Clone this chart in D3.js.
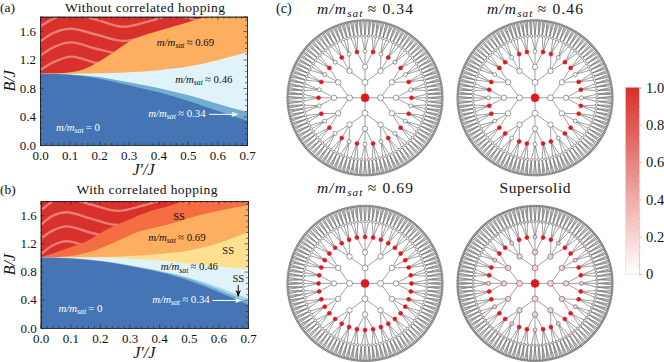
<!DOCTYPE html>
<html><head><meta charset="utf-8">
<style>html,body{margin:0;padding:0;background:#fff}svg{display:block}
text{font-family:"Liberation Serif",serif;fill:#111}</style>
<script src="https://cdn.jsdelivr.net/npm/d3@7"></script></head>
<body><svg id="c" width="664" height="362"></svg>
<script>
// ---------- phase diagram (a): boundaries as [J'/J, B/J]
const aRedEdge   = [[0,1],[.05,1.002],[.089,1.014],[.146,1.06],[.2,1.17],[.258,1.33],[.315,1.48],[.37,1.565],[.428,1.636],[.484,1.70],[.55,1.79],[.7,2.05]];
const aOrangeEdge= [[0,1],[.1,1],[.2,1.005],[.3,1.02],[.4,1.05],[.5,1.10],[.6,1.19],[.7,1.30]];
const aPaleEdge  = [[0,1],[.1,.99],[.2,.955],[.3,.88],[.4,.80],[.5,.70],[.6,.58],[.7,.465]];
const aMidEdge   = [[0,1],[.1,.985],[.2,.93],[.3,.84],[.4,.74],[.5,.62],[.6,.48],[.7,.34]];
const aStripes = [
 [[0,1.05],[.05,1.17],[.106,1.24],[.19,1.15],[.28,1.06]],
 [[0,1.25],[.05,1.38],[.106,1.44],[.19,1.35],[.28,1.26]],
 [[0,1.45],[.05,1.58],[.106,1.63],[.19,1.55],[.28,1.46],[.365,1.53],[.45,1.62],[.53,1.55]],
 [[0,1.66],[.05,1.78],[.106,1.84],[.19,1.76],[.28,1.66],[.365,1.73],[.45,1.82],[.53,1.75],[.6,1.66]]
];
// ---------- phase diagram (b)
const bRedEdge    = [[0,1],[.076,1.11],[.155,1.23],[.223,1.395],[.29,1.52],[.37,1.66],[.425,1.72],[.487,1.81],[.7,2.1]];
const bDeepEdge   = [[0,1],[.03,1],[.1,1.02],[.167,1.08],[.245,1.21],[.335,1.37],[.425,1.46],[.538,1.6],[.7,1.745]];
const bOrangeEdge = [[0,1],[.1,1],[.2,1.005],[.3,1.02],[.4,1.05],[.5,1.10],[.6,1.2],[.7,1.36]];
const bYellowEdge = [[0,1],[.1,1],[.2,1],[.3,.985],[.4,.955],[.5,.915],[.6,.875],[.7,.835]];
const bPaleEdge   = [[0,1],[.1,.99],[.2,.955],[.3,.89],[.4,.815],[.5,.715],[.6,.58],[.65,.5],[.7,.42]];
const bSkyEdge    = [[0,1],[.1,.988],[.2,.95],[.3,.885],[.4,.805],[.5,.70],[.6,.545],[.65,.46],[.7,.37]];
const bMidEdge    = [[0,1],[.1,.985],[.2,.945],[.3,.88],[.437,.755],[.548,.60],[.64,.44],[.7,.33]];
const bStripes = [
 [[0,1.04],[.04,1.17],[.088,1.23],[.17,1.14],[.26,1.06]],
 [[0,1.26],[.04,1.38],[.088,1.44],[.17,1.35],[.26,1.26]],
 [[0,1.46],[.04,1.59],[.088,1.64],[.17,1.55],[.26,1.46],[.35,1.54],[.437,1.63],[.5,1.56]],
 [[0,1.66],[.04,1.79],[.088,1.84],[.17,1.75],[.26,1.66],[.35,1.74],[.437,1.83],[.5,1.76],[.56,1.68]]
];
const xMajor = [0,.1,.2,.3,.4,.5,.6,.7];
const yMajor = [0,.4,.8,1.2,1.6];
const xMinor = [.02,.04,.06,.08,.12,.14,.16,.18,.22,.24,.26,.28,.32,.34,.36,.38,.42,.44,.46,.48,.52,.54,.56,.58,.62,.64,.66,.68];
const yMinor = [.08,.16,.24,.32,.48,.56,.64,.72,.88,.96,1.04,1.12,1.28,1.36,1.44,1.52,1.68,1.76];
// ---------- annotations [text value, x, y, colour]
const aLabels = [["≈ 0.69",.395,1.39,"#111"],["≈ 0.46",.457,.87,"#111"],["≈ 0.34",.366,.393,"#fff"],["= 0",.054,.196,"#fff"]];
const bLabels = [["≈ 0.69",.363,1.24,"#111"],["≈ 0.46",.405,.815,"#111"],["≈ 0.34",.377,.36,"#fff"],["= 0",.06,.227,"#fff"]];
const bSS = [[.467,1.53],[.633,1.045],[.667,.647]];
// ---------- Cayley tree site occupations per shell (shell 0 = centre)
const shellCounts = [1,4,12,36,108,324];
const treeTitles = ["≈ 0.34","≈ 0.46","≈ 0.69","Supersolid"];
const shell0 = [1,1,1,1];
const shell1 = [0,0,0,.2];
const shell2 = [0,0,0,.2];
const shell4 = [0,0,0,.16];
const shell5 = [0,0,0,.12];
const shell3A = [1,0,1,0,1,0,1,0,1,0,1,0,1,0,1,0,1,0,1,0,1,0,1,0,1,0,1,0,1,0,1,0,1,0,1,0];
const shell3B = [1,0,1,1,0,1,1,0,1,1,0,1,1,0,1,1,0,1,1,0,1,1,0,1,1,0,1,1,0,1,1,0,1,1,0,1];
const shell3C = [1,1,1,1,1,1,1,1,1,1,1,1,1,1,1,1,1,1,1,1,1,1,1,1,1,1,1,1,1,1,1,1,1,1,1,1];
const shell3D = [1,.22,1,1,.22,1,1,.22,1,1,.22,1,1,.22,1,1,.22,1,1,.22,1,1,.22,1,1,.22,1,1,.22,1,1,.22,1,1,.22,1];
const shell3 = [shell3A,shell3B,shell3C,shell3D];
const colorbarTicks = [0,.2,.4,.6,.8,1];
const colorbarMinor = [.05,.1,.15,.25,.3,.35,.45,.5,.55,.65,.7,.75,.85,.9,.95];

const svg = d3.select("#c");
const INK="#222";
const defs = svg.append("defs");
[["w","#fff"],["k","#111"]].forEach(([id,col])=>{
  defs.append("marker").attr("id","arrow"+id).attr("viewBox","0 0 10 8").attr("refX",9).attr("refY",4)
   .attr("markerWidth",7).attr("markerHeight",5.5).attr("markerUnits","userSpaceOnUse").attr("orient","auto")
   .append("path").attr("d","M0,0L10,4L0,8L2.5,4Z").attr("fill",col);
});
function mathLabel(sel,x,y,rest,size,fill,anchor,len){
  const t=sel.append("text").attr("x",x).attr("y",y).attr("font-size",size).attr("text-anchor",anchor||"start");
  if(len) t.attr("textLength",len);
  t.append("tspan").attr("font-style","italic").style("fill",fill).text("m/m");
  t.append("tspan").attr("font-style","italic").style("fill",fill).attr("dy",size*.22).attr("font-size",size*.72).text("sat");
  t.append("tspan").style("fill",fill).attr("dy",-size*.22).text("\u2009"+rest);
  return t;
}
function phasePanel(o){
  const x=d3.scaleLinear().domain([0,.7]).range([o.l,o.r]);
  const y=d3.scaleLinear().domain([0,1.8]).range([o.b,o.t]);
  const g=svg.append("g");
  const id="clip"+o.name;
  defs.append("clipPath").attr("id",id).append("rect").attr("x",o.l).attr("y",o.t).attr("width",o.r-o.l).attr("height",o.b-o.t);
  const plot=g.append("g").attr("clip-path",`url(#${id})`);
  plot.append("rect").attr("x",o.l).attr("y",o.t).attr("width",o.r-o.l).attr("height",o.b-o.t).attr("fill","#d8302a");
  const wave=d3.line().x(d=>x(d[0])).y(d=>y(d[1])).curve(d3.curveCatmullRom.alpha(.5));
  plot.selectAll(".stripe").data(o.stripes).join("path").attr("d",wave).attr("fill","none").attr("stroke","#ea7d74").attr("stroke-width",2.4);
  const area=d3.area().x(d=>x(d[0])).y0(y(0)).y1(d=>y(d[1])).curve(d3.curveMonotoneX);
  plot.selectAll(".region").data(o.regions).join("path").attr("d",d=>area(d[0])).attr("fill",d=>d[1]);
  const axes=[[d3.axisBottom(x),o.b,xMajor,xMinor,true],[d3.axisTop(x),o.t,xMajor,xMinor,false]];
  axes.forEach(([ax,yy,maj,min,lab])=>{
    const a=g.append("g").attr("transform",`translate(0,${yy})`).call(ax.tickValues(maj).tickSize(-3.5).tickPadding(6).tickFormat(lab?d3.format(".1f"):""));
    a.append("g").call(ax.tickValues(min).tickSize(-2).tickFormat(""));
  });
  const yaxes=[[d3.axisLeft(y),o.l,true],[d3.axisRight(y),o.r,false]];
  yaxes.forEach(([ax,xx,lab])=>{
    const a=g.append("g").attr("transform",`translate(${xx},0)`).call(ax.tickValues(yMajor).tickSize(-3.5).tickPadding(4).tickFormat(lab?d3.format(".1f"):""));
    a.append("g").call(ax.tickValues(yMinor).tickSize(-2).tickFormat(""));
  });
  g.selectAll(".domain").attr("stroke",INK).attr("stroke-width",.7);
  g.selectAll(".tick line").attr("stroke",INK).attr("stroke-width",.6);
  g.selectAll(".tick text").attr("font-size",13).attr("fill","#111");
  g.append("text").attr("x",o.titleX).attr("y",o.titleY).attr("font-size",13.5).attr("text-anchor","middle").attr("textLength",o.titleW).text(o.title);
  g.append("text").attr("x",0).attr("y",o.titleY).attr("font-size",13.5).text(o.tag);
  g.append("text").attr("x",(o.l+o.r)/2).attr("y",o.xlabY).attr("font-size",16).attr("text-anchor","middle").attr("font-style","italic").text("J′/J");
  g.append("text").attr("transform",`translate(14.5,${(o.t+o.b)/2}) rotate(-90)`).attr("font-size",16).attr("text-anchor","middle").attr("font-style","italic").text("B/J");
  o.labels.forEach(d=>mathLabel(g,x(d[1]),y(d[2]),d[0],10.8,d[3]));
  return {g,x,y};
}
const A=phasePanel({name:"a",tag:"(a)",title:"Without correlated hopping",titleX:145,titleY:12,titleW:160,xlabY:175,
  l:40,r:247,t:16.7,b:145,stripes:aStripes,labels:aLabels,
  regions:[[aRedEdge,"#fdae61"],[aOrangeEdge,"#e0f3f8"],[aPaleEdge,"#74add1"],[aMidEdge,"#4575b4"]]});
const B=phasePanel({name:"b",tag:"(b)",title:"With correlated hopping",titleX:147,titleY:194,titleW:141,xlabY:358,
  l:40.7,r:248,t:201,b:328,stripes:bStripes,labels:bLabels,
  regions:[[bRedEdge,"#f46d43"],[bDeepEdge,"#fdae61"],[bOrangeEdge,"#fee090"],[bYellowEdge,"#e0f3f8"],[bPaleEdge,"#abd9e9"],[bSkyEdge,"#74add1"],[bMidEdge,"#4575b4"]]});
A.g.append("line").attr("x1",A.x(.572)).attr("x2",A.x(.668)).attr("y1",A.y(.43)).attr("y2",A.y(.43)).attr("stroke","#fff").attr("stroke-width",1).attr("marker-end","url(#arroww)");
B.g.append("line").attr("x1",B.x(.58)).attr("x2",B.x(.677)).attr("y1",B.y(.39)).attr("y2",B.y(.39)).attr("stroke","#fff").attr("stroke-width",1).attr("marker-end","url(#arroww)");
B.g.append("line").attr("x1",B.x(.667)).attr("x2",B.x(.667)).attr("y1",B.y(.61)).attr("y2",B.y(.45)).attr("stroke","#111").attr("stroke-width",1).attr("marker-end","url(#arrowk)");
B.g.selectAll(".ss").data(bSS).join("text").attr("x",d=>B.x(d[0])).attr("y",d=>B.y(d[1])).attr("font-size",10.5).attr("text-anchor","middle").text("SS");

// ---------- trees
const treeCentres = [[365,97.8],[535,97.8],[365,283.4],[535,283.4]];
const radius = d3.scaleLinear().domain([0,5]).range([0,77.5]);
const nodeR = [4,3,2.7,2,1.25,.75];
const nodeColor = d3.scaleLinear().domain([0,1]).range(["#ffffff","#e1181e"]);
function pos(shell,i){
  if(shell===0) return [0,0];
  const ang=d3.scaleLinear().domain([0,shellCounts[shell]]).range([-45,315]);
  return d3.pointRadial((90-ang(i+.5))*Math.PI/180,radius(shell));
}
treeCentres.forEach((c,t)=>{
  const g=svg.append("g").attr("transform",`translate(${c[0]},${c[1]})`);
  const links=[],nodes=[];
  shellCounts.forEach((n,s)=>{
    const level=[shell0[t],shell1[t],shell2[t],null,shell4[t],shell5[t]][s];
    d3.range(n).forEach(i=>{
      const p=pos(s,i);
      nodes.push({s,p,v:s===3?shell3[t][i]:level});
      if(s>0){links.push({s,a:p,b:s===1?[0,0]:pos(s-1,Math.floor(i/3))});}
    });
  });
  g.selectAll("line").data(links).join("line")
   .attr("x1",d=>d.a[0]).attr("y1",d=>d.a[1]).attr("x2",d=>d.b[0]).attr("y2",d=>d.b[1])
   .attr("stroke",d=>d.s===5?"#7e7e7e":"#6e6e6e").attr("stroke-width",d=>d.s===5?.85:.65);
  g.selectAll("circle").data(nodes.slice().reverse()).join("circle")
   .attr("cx",d=>d.p[0]).attr("cy",d=>d.p[1]).attr("r",d=>nodeR[d.s])
   .attr("fill",d=>nodeColor(d.v))
   .attr("stroke",d=>d.v>=1?"#e1181e":"#5a5a5a").attr("stroke-width",d=>d.s===5?.7:.6);
});
svg.append("text").attr("x",276).attr("y",13).attr("font-size",14).text("(c)");
mathLabel(svg,365,13.5,treeTitles[0],15.5,"#111","middle",96);
mathLabel(svg,535,13.5,treeTitles[1],15.5,"#111","middle",96);
mathLabel(svg,365,192.5,treeTitles[2],15.5,"#111","middle",96);
svg.append("text").attr("x",535).attr("y",192.5).attr("font-size",15.5).attr("text-anchor","middle").attr("textLength",71).text(treeTitles[3]);

// ---------- colourbar
const cbY=d3.scaleLinear().domain([0,1]).range([274,87.5]);
const grad=defs.append("linearGradient").attr("id","cb").attr("x1",0).attr("x2",0).attr("y1",1).attr("y2",0);
grad.append("stop").attr("offset",0).attr("stop-color","#ffffff");
grad.append("stop").attr("offset",1).attr("stop-color","#d7302a");
svg.append("rect").attr("x",625.5).attr("y",87.5).attr("width",13.5).attr("height",186.5).attr("fill","url(#cb)");
const cb=svg.append("g").attr("transform","translate(639,0)");
const cbAxis=d3.axisRight(cbY);
cb.call(cbAxis.tickValues(colorbarTicks).tickSize(3).tickPadding(4).tickFormat(d=>d===0?"0":d3.format(".1f")(d)));
cb.append("g").call(cbAxis.tickValues(colorbarMinor).tickSize(1.5).tickFormat(""));
cb.selectAll(".domain").attr("stroke","#ccc").attr("stroke-width",.5);
cb.selectAll(".tick line").attr("stroke","#888").attr("stroke-width",.5);
cb.selectAll(".tick text").attr("font-size",14.5).attr("fill","#111");
svg.append("path").attr("d","M625.5,87.5V274H639").attr("fill","none").attr("stroke","#ddd").attr("stroke-width",.5);
</script></body></html>
